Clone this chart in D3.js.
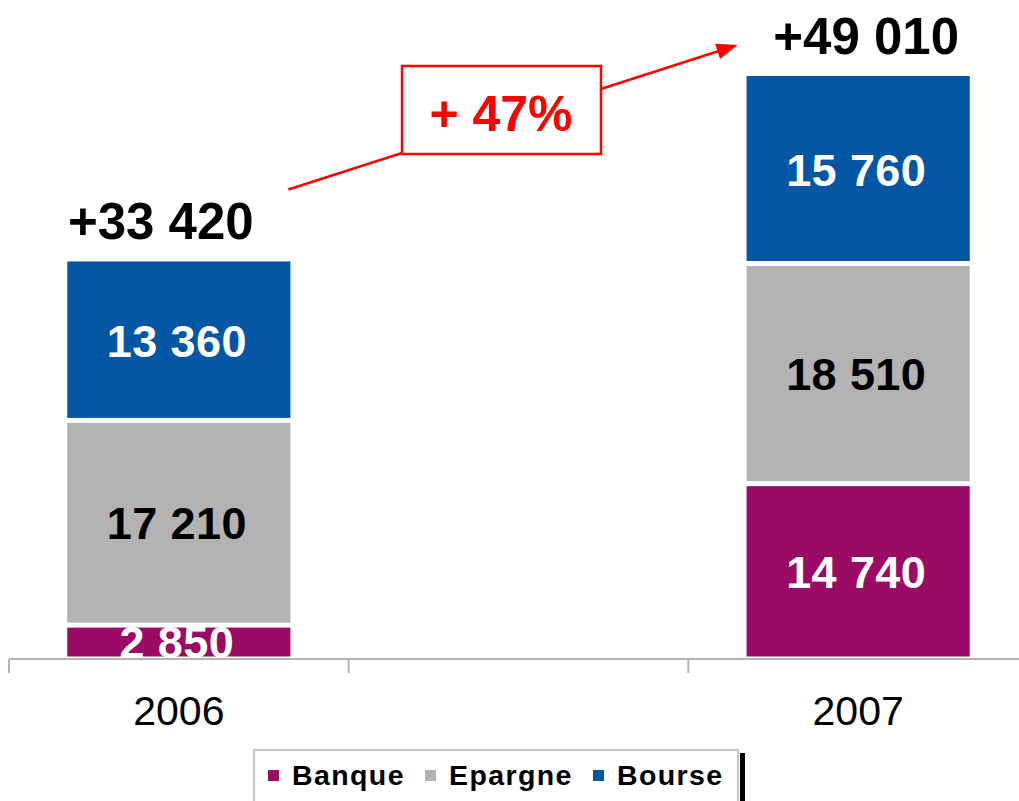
<!DOCTYPE html>
<html>
<head>
<meta charset="utf-8">
<script src="https://cdn.jsdelivr.net/npm/d3@7"></script>
<style>
  html, body { margin: 0; padding: 0; background: #fff; }
  svg { display: block; font-family: "Liberation Sans", Arial, sans-serif; }
</style>
</head>
<body>
<svg id="chart" width="1019" height="801"></svg>
<script>
// ---- data ----
const categories = ["2006", "", "2007"];
const seriesNames = ["Banque", "Epargne", "Bourse"];
const banque  = [2850, null, 14740];
const epargne = [17210, null, 18510];
const bourse  = [13360, null, 15760];
const totals  = [33420, null, 49010];
const totalLabels = ["+33 420", null, "+49 010"];
const segmentLabels = {
  Banque:  ["2 850", null, "14 740"],
  Epargne: ["17 210", null, "18 510"],
  Bourse:  ["13 360", null, "15 760"]
};
const growthLabel = "+ 47%";

// ---- styles ----
const colors = { Banque: "#9b0a64", Epargne: "#b3b3b3", Bourse: "#0256a3" };
const labelColors = { Banque: "#fff", Epargne: "#000", Bourse: "#fff" };

const svg = d3.select("#chart");
const W = 1019, H = 801;
const baseY = 659;

const x = d3.scaleBand().domain(categories).range([9, 1028]).padding(0);
const y = d3.scaleLinear().domain([0, 49010]).range([baseY, 76]);
const barW = x.bandwidth() * 0.657;

const seriesVals = { Banque: banque, Epargne: epargne, Bourse: bourse };

// build stacked table
const rows = categories.map((c, i) => {
  const r = { cat: c };
  seriesNames.forEach(s => r[s] = seriesVals[s][i]);
  return r;
}).filter(r => r.Banque != null);

const stack = d3.stack().keys(seriesNames)(rows);

const gap = 2.5;
stack.forEach((layer, li) => {
  const name = layer.key;
  const isTop = li === stack.length - 1;
  const g = svg.append("g");
  layer.forEach(d => {
    const cx = x(d.data.cat) + x.bandwidth() / 2;
    const yTop = y(d[1]) + (isTop ? 0 : gap);
    const yBot = y(d[0]) - gap;
    g.append("rect")
      .attr("x", cx - barW / 2)
      .attr("y", yTop)
      .attr("width", barW)
      .attr("height", Math.max(0, yBot - yTop))
      .attr("fill", colors[name]);
  });
});

// segment labels
stack.forEach(layer => {
  const name = layer.key;
  layer.forEach(d => {
    const idx = categories.indexOf(d.data.cat);
    const cx = x(d.data.cat) + x.bandwidth() / 2;
    const cy = (y(d[0]) + y(d[1])) / 2;
    svg.append("text")
      .attr("x", cx - 2)
      .attr("y", cy)
      .attr("dy", "0.36em")
      .attr("text-anchor", "middle")
      .attr("font-size", 45)
      .attr("font-weight", "bold")
      .attr("letter-spacing", 0.4)
      .attr("fill", labelColors[name])
      .text(segmentLabels[name][idx]);
  });
});

// axis
const axisColor = "#b4b4b4";
const axisG = svg.append("g");
axisG.append("line")
  .attr("x1", x.range()[0]).attr("x2", W)
  .attr("y1", baseY).attr("y2", baseY)
  .attr("stroke", axisColor).attr("stroke-width", 2);
categories.forEach(c => {
  axisG.append("line")
    .attr("x1", x(c)).attr("x2", x(c))
    .attr("y1", baseY).attr("y2", baseY + 14)
    .attr("stroke", axisColor).attr("stroke-width", 2);
});
categories.forEach(c => {
  if (!c) return;
  axisG.append("text")
    .attr("x", x(c) + x.bandwidth() / 2)
    .attr("y", 725)
    .attr("text-anchor", "middle")
    .attr("font-size", 41)
    .attr("fill", "#000")
    .text(c);
});

// totals
const totalDx = [-18, null, 8];
categories.forEach((c, i) => {
  if (totals[i] == null) return;
  svg.append("text")
    .attr("x", x(c) + x.bandwidth() / 2 + totalDx[i])
    .attr("y", y(totals[i]) - 22)
    .attr("text-anchor", "middle")
    .attr("font-size", 51)
    .attr("font-weight", "bold")
    .attr("fill", "#000")
    .text(totalLabels[i]);
});

// growth arrow
const red = "#ff0000";
const x0 = x("2006") + x.bandwidth() / 2 + barW / 2 - 2;
const y0 = y(totals[0]) - 72;
const x1 = x("2007") + x.bandwidth() / 2 - barW / 2 - 9;
const y1 = y(totals[2]) - 31;
svg.append("line")
  .attr("x1", x0).attr("y1", y0)
  .attr("x2", x1 - 18 * Math.cos(Math.atan2(y1 - y0, x1 - x0)))
  .attr("y2", y1 - 18 * Math.sin(Math.atan2(y1 - y0, x1 - x0)))
  .attr("stroke", red).attr("stroke-width", 2.5);
{
  const ang = Math.atan2(y1 - y0, x1 - x0);
  const L = 21, hw = 8;
  const bx = x1 - L * Math.cos(ang), by = y1 - L * Math.sin(ang);
  const px = -Math.sin(ang), py = Math.cos(ang);
  svg.append("polygon")
    .attr("points", [[x1, y1], [bx + px * hw, by + py * hw], [bx - px * hw, by - py * hw]].map(p => p.join(",")).join(" "))
    .attr("fill", red);
}
// box
svg.append("rect")
  .attr("x", 402).attr("y", 66).attr("width", 199).attr("height", 88)
  .attr("fill", "#fff").attr("stroke", red).attr("stroke-width", 2.5);
svg.append("text")
  .attr("x", 501).attr("y", 131)
  .attr("text-anchor", "middle")
  .attr("font-size", 50)
  .attr("font-weight", "bold")
  .attr("fill", red)
  .text(growthLabel);

// legend
const lg = svg.append("g");
lg.append("rect")
  .attr("x", 254).attr("y", 750).attr("width", 484).attr("height", 60)
  .attr("fill", "#fff").attr("stroke", "#c4c4c4").attr("stroke-width", 2);
lg.append("rect")
  .attr("x", 740).attr("y", 753).attr("width", 5).attr("height", 60)
  .attr("fill", "#000");
const legendX = [268, 425, 593];
seriesNames.forEach((s, i) => {
  lg.append("rect")
    .attr("x", legendX[i]).attr("y", 770).attr("width", 11).attr("height", 11)
    .attr("fill", colors[s]);
  lg.append("text")
    .attr("x", legendX[i] + 24).attr("y", 785)
    .attr("font-size", 28.5)
    .attr("font-weight", "bold")
    .attr("letter-spacing", 1.4)
    .attr("fill", "#000")
    .text(s);
});
</script>
</body>
</html>
